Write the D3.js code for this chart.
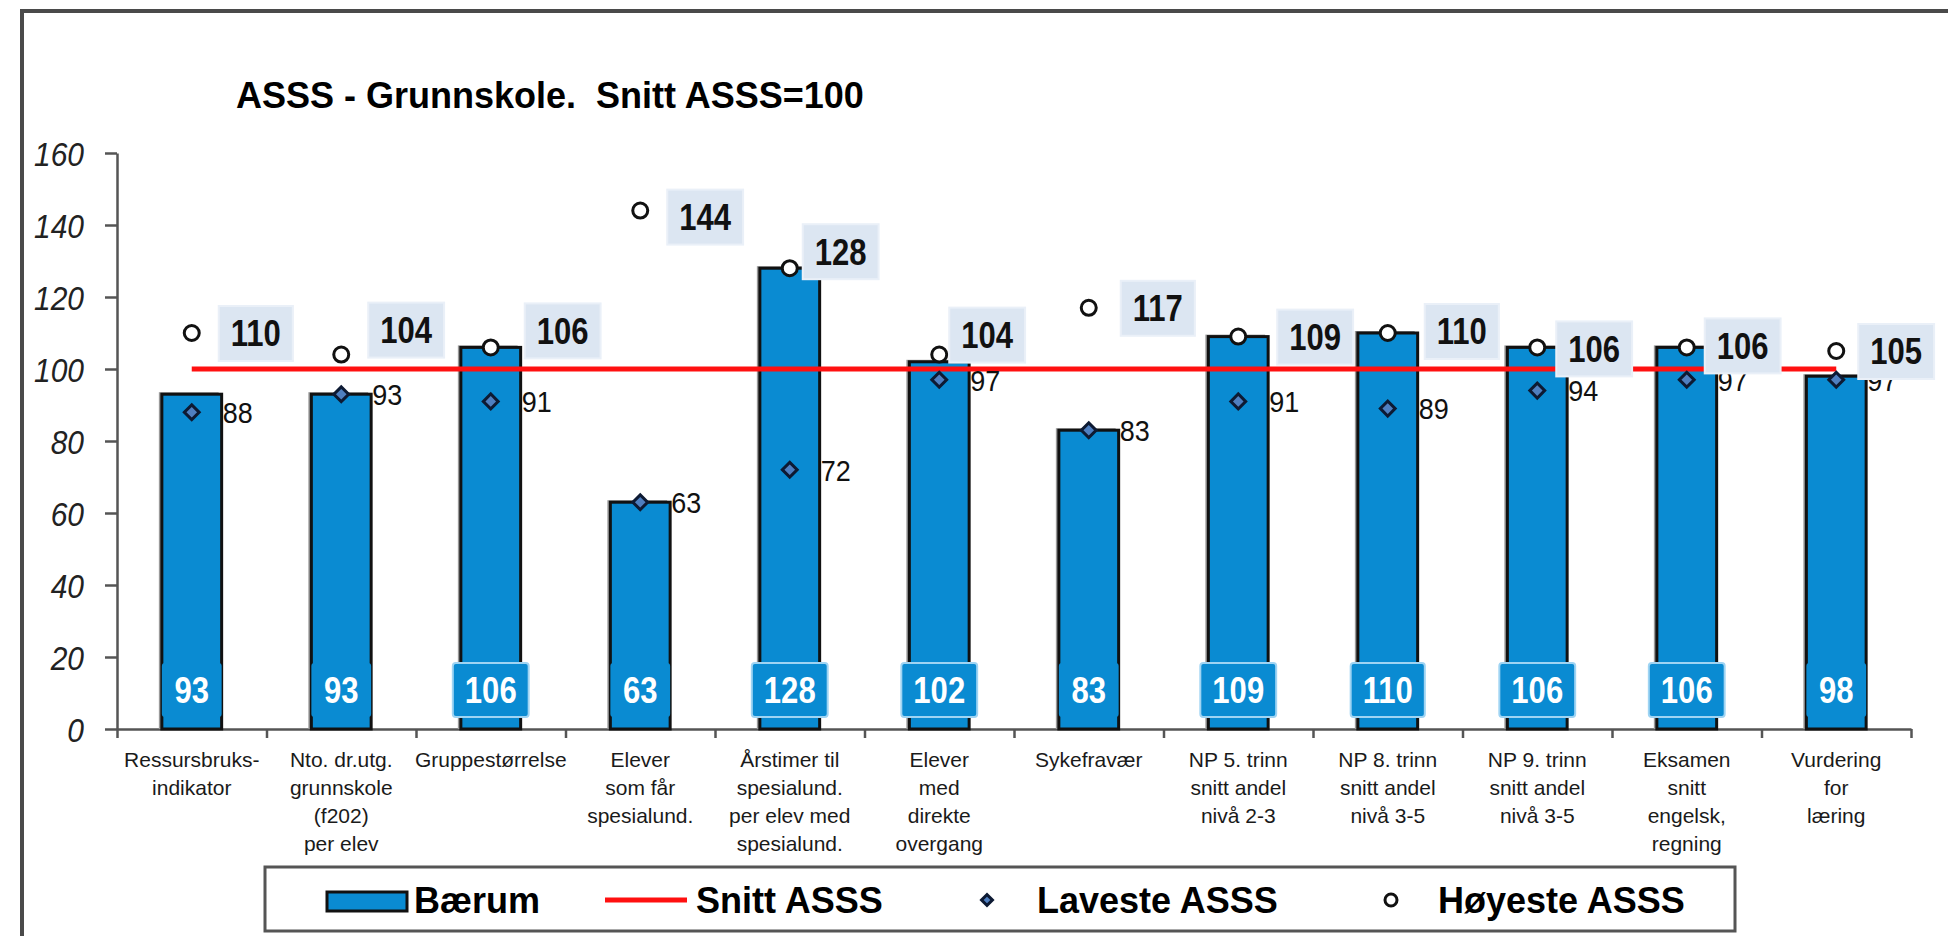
<!DOCTYPE html>
<html><head><meta charset="utf-8">
<script src="https://cdn.jsdelivr.net/npm/d3@7"></script>
<style>
html,body{margin:0;padding:0;background:#fff;}
svg{display:block;font-family:"Liberation Sans",Arial,Helvetica,sans-serif;}
</style></head><body>
<svg id="chart" width="1948" height="936"></svg>
<script>
// ---------- DATA ----------
const title = "ASSS - Grunnskole.  Snitt ASSS=100";
const categories = ["Ressursbruksindikator","Nto. dr.utg. grunnskole (f202) per elev","Gruppestørrelse","Elever som får spesialund.","Årstimer til spesialund. per elev med spesialund.","Elever med direkte overgang","Sykefravær","NP 5. trinn snitt andel nivå 2-3","NP 8. trinn snitt andel nivå 3-5","NP 9. trinn snitt andel nivå 3-5","Eksamen snitt engelsk, regning","Vurdering for læring"];
const categoryLines = [
  ["Ressursbruks-","indikator"],
  ["Nto. dr.utg.","grunnskole","(f202)","per elev"],
  ["Gruppestørrelse"],
  ["Elever","som får","spesialund."],
  ["Årstimer til","spesialund.","per elev med","spesialund."],
  ["Elever","med","direkte","overgang"],
  ["Sykefravær"],
  ["NP 5. trinn","snitt andel","nivå 2-3"],
  ["NP 8. trinn","snitt andel","nivå 3-5"],
  ["NP 9. trinn","snitt andel","nivå 3-5"],
  ["Eksamen","snitt","engelsk,","regning"],
  ["Vurdering","for","læring"]
];
const baerum  = [93, 93, 106, 63, 128, 102, 83, 109, 110, 106, 106, 98];
const snitt   = [100,100,100,100,100,100,100,100,100,100,100,100];
const laveste = [88, 93, 91, 63, 72, 97, 83, 91, 89, 94, 97, 97];
const hoyeste = [110,104,106,144,128,104,117,109,110,106,106,105];
const yTicks  = [0,20,40,60,80,100,120,140,160];
const legendLabels = ["Bærum","Snitt ASSS","Laveste ASSS","Høyeste ASSS"];

// ---------- LAYOUT (label nudges for the "Høyeste" boxes, in px) ----------
const maxBoxDx = [27,27,34,27,13,10,32,39,37,19,18,22];
const maxBoxDy = [0,-25,-17,6,-17,-20,0,0,-2,1,-2,0];

const BLUE = "#0a8bd2", RED = "#ff1010", AXIS = "#555";
const svg = d3.select("#chart");
const plot = {left:117, right:1911, top:153, bottom:729};

const x = d3.scaleBand().domain(categories).range([plot.left, plot.right]).paddingInner(0.6).paddingOuter(0.3);
const y = d3.scaleLinear().domain([0,160]).range([plot.bottom, plot.top]);
const bw = x.bandwidth();
const cx = c => x(c) + bw/2;

function addText(sel, px, py, str, o) {
  o = o || {};
  return sel.append("text")
    .attr("transform", `translate(${px},${py}) scale(${o.sx||1},1)`)
    .attr("text-anchor", o.anchor || "start")
    .attr("dy", o.dy || "0.36em")
    .attr("font-size", o.size || 20)
    .attr("font-weight", o.weight || "normal")
    .attr("font-style", o.style || "normal")
    .attr("fill", o.fill || "#000")
    .style("white-space", "pre")
    .text(str);
}

// frame
svg.append("rect").attr("x",22).attr("y",11).attr("width",1960).attr("height",960)
  .attr("fill","none").attr("stroke","#4a4a4a").attr("stroke-width",4);

// title
addText(svg, 236, 108, title, {size:36, weight:"bold", dy:"0"});

// y axis
const yAxis = svg.append("g").attr("transform",`translate(${plot.left},0)`)
  .call(d3.axisLeft(y).tickValues(yTicks).tickSize(12).tickSizeOuter(0).tickFormat(d3.format("d")));
yAxis.selectAll("path,line").attr("stroke",AXIS).attr("stroke-width",2.5);
yAxis.selectAll("text").attr("x",0).attr("dy","0.36em")
  .attr("transform","translate(-33,0) scale(0.88,1)")
  .attr("font-size",34).attr("font-style","italic").attr("fill","#222")
  .attr("font-family",'"Liberation Sans",Arial,sans-serif');

// x axis (category boundaries)
const xb = d3.scaleLinear().domain([0,categories.length]).range([plot.left, plot.right]);
const xAxis = svg.append("g").attr("transform",`translate(0,${plot.bottom})`)
  .call(d3.axisBottom(xb).tickValues(d3.range(categories.length+1)).tickSize(9).tickSizeOuter(0).tickFormat(""));
xAxis.selectAll("path,line").attr("stroke",AXIS).attr("stroke-width",2.5);

// bars (with slight shadow)
const bars = svg.append("g");
bars.selectAll("rect.sh").data(categories).join("rect").attr("class","sh")
  .attr("x", c => x(c)-3).attr("y", (c,i) => y(baerum[i])-2)
  .attr("width", bw).attr("height", (c,i) => y(0)-y(baerum[i])+2)
  .attr("fill","#9a9a9a");
bars.selectAll("rect.bar").data(categories).join("rect").attr("class","bar")
  .attr("x", c => x(c)).attr("y", (c,i) => y(baerum[i]))
  .attr("width", bw).attr("height", (c,i) => y(0)-y(baerum[i]))
  .attr("fill",BLUE).attr("stroke","#111").attr("stroke-width",3);

// bar value labels at the bottom
const bl = svg.append("g");
categories.forEach((c,i) => {
  const g = bl.append("g");
  const t = addText(g, cx(c), plot.bottom-39, String(baerum[i]), {size:37, weight:"bold", anchor:"middle", sx:0.84, fill:"#fff"});
  const tw = t.node().getComputedTextLength()*0.84;
  const w = Math.max(bw, tw+24);
  g.insert("rect","text").attr("x", cx(c)-w/2).attr("y", plot.bottom-66).attr("width", w).attr("height",54)
    .attr("rx",3).attr("fill",BLUE).attr("stroke", w>bw ? "#9fd4f3" : "none").attr("stroke-width",2);
});

// Snitt line
svg.append("path")
  .attr("d", d3.line().x((v,i)=>cx(categories[i])).y(v=>y(v))(snitt))
  .attr("fill","none").attr("stroke",RED).attr("stroke-width",5);

// Laveste: diamonds + labels
const diamond = d3.symbol().type(d3.symbolSquare).size(110);
const mins = svg.append("g");
categories.forEach((c,i) => {
  mins.append("path").attr("d", diamond())
    .attr("transform", `translate(${cx(c)},${y(laveste[i])}) rotate(45)`)
    .attr("fill","#4f7fc0").attr("stroke","#0d1a33").attr("stroke-width",3);
  addText(mins, cx(c)+31, y(laveste[i]), String(laveste[i]), {size:30, sx:0.9, fill:"#111"});
});

// Høyeste: circles + boxed labels
const maxs = svg.append("g");
categories.forEach((c,i) => {
  maxs.append("circle").attr("cx", cx(c)).attr("cy", y(hoyeste[i])).attr("r",7.5)
    .attr("fill","#fff").attr("stroke","#111").attr("stroke-width",3);
});
categories.forEach((c,i) => {
  const g = maxs.append("g");
  const bx = cx(c)+maxBoxDx[i], by = y(hoyeste[i])+maxBoxDy[i];
  const t = addText(g, 0, 0, String(hoyeste[i]), {size:37, weight:"bold", anchor:"middle", sx:0.84, fill:"#111"});
  const tw = t.node().getComputedTextLength()*0.84;
  const w = tw+24;
  t.attr("transform", `translate(${bx+w/2},${by}) scale(0.84,1)`);
  g.insert("rect","text").attr("x", bx).attr("y", by-27).attr("width", w).attr("height",55)
    .attr("fill","#dce6f2").attr("stroke","#eaf0f8").attr("stroke-width",2);
});

// category labels
const cl = svg.append("g");
categories.forEach((c,i) => {
  categoryLines[i].forEach((ln,j) => {
    addText(cl, cx(c), 767 + j*28, ln, {size:21, anchor:"middle", dy:"0", fill:"#1a1a1a"});
  });
});

// legend
const lg = svg.append("g");
lg.append("rect").attr("x",265).attr("y",867).attr("width",1470).attr("height",64)
  .attr("fill","#fff").attr("stroke","#555").attr("stroke-width",3);
const ly = 900;
lg.append("rect").attr("x",327).attr("y",892).attr("width",80).attr("height",19)
  .attr("fill",BLUE).attr("stroke","#111").attr("stroke-width",3);
addText(lg, 414, ly, legendLabels[0], {size:36, weight:"bold"});
lg.append("line").attr("x1",605).attr("x2",687).attr("y1",ly).attr("y2",ly).attr("stroke",RED).attr("stroke-width",5);
addText(lg, 696, ly, legendLabels[1], {size:36, weight:"bold"});
lg.append("path").attr("d", d3.symbol().type(d3.symbolSquare).size(60)())
  .attr("transform",`translate(987,${ly}) rotate(45)`).attr("fill","#4f7fc0").attr("stroke","#0d1a33").attr("stroke-width",3);
addText(lg, 1037, ly, legendLabels[2], {size:36, weight:"bold"});
lg.append("circle").attr("cx",1391).attr("cy",ly).attr("r",6).attr("fill","#fff").attr("stroke","#111").attr("stroke-width",3);
addText(lg, 1438, ly, legendLabels[3], {size:36, weight:"bold"});
</script>
</body></html>
